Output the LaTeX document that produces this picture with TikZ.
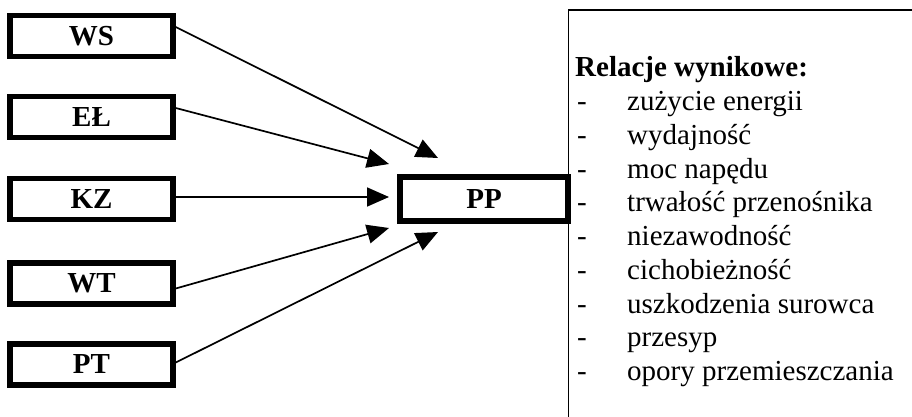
\documentclass[tikz,border=0pt]{standalone}
\usepackage{fontspec}
\setmainfont{Liberation Serif}
\usetikzlibrary{arrows.meta}
\begin{document}
\begin{tikzpicture}[x=1pt,y=-1pt,
  srcbox/.style={draw, line width=5.5pt, minimum width=163pt, minimum height=41pt, inner sep=0pt, font=\fontsize{29}{32}\selectfont\bfseries},
  conn/.style={line width=1.7pt, -{Triangle[length=22pt,width=19pt]}},
  txt/.style={anchor=base west, inner sep=0pt, font=\fontsize{29}{33}\selectfont},
  frameline/.style={line width=1.3pt}]
\useasboundingbox (0,0) rectangle (912,417);
% source boxes
\node[srcbox] (ws) at (91.5,36) {WS};
\node[srcbox] (el) at (91.5,117) {EŁ};
\node[srcbox] (kz) at (91.5,199) {KZ};
\node[srcbox] (wt) at (91.5,283.5) {WT};
\node[srcbox] (pt) at (91.5,364.5) {PT};
% target box
\node[srcbox, minimum width=168pt, minimum height=44pt] (pp) at (484,199) {PP};
% arrow tips
\coordinate (tws) at (438,158);
\coordinate (tel) at (389,164);
\coordinate (tkz) at (389,197);
\coordinate (twt) at (389,228);
\coordinate (tpt) at (438,232);
\draw[conn] ([yshift=9pt]ws.east) -- (tws);
\draw[conn] ([yshift=9pt]el.east) -- (tel);
\draw[conn] ([yshift=2pt]kz.east) -- (tkz);
\draw[conn] ([yshift=-5pt]wt.east) -- (twt);
\draw[conn] ([yshift=2pt]pt.east) -- (tpt);
% result frame (cut by the picture edge)
\coordinate (fr1) at (912,10);
\coordinate (fr2) at (568.5,10);
\coordinate (fr3) at (568.5,417);
\draw[frameline] (fr1) -- (fr2) -- (fr3);
% list
\node[txt, font=\fontsize{29}{33}\selectfont\bfseries] (head) at (575,77) {Relacje wynikowe:};
\foreach \t [count=\i] in {zużycie energii, wydajność, moc napędu, trwałość przenośnika, niezawodność, cichobieżność, uszkodzenia surowca, przesyp, opory przemieszczania}{
  \node[txt] (d\i) at (577,{110.5+33.75*(\i-1)}) {-};
  \node[txt] (t\i) at (627,{110.5+33.75*(\i-1)}) {\t};
}
\end{tikzpicture}
\end{document}
